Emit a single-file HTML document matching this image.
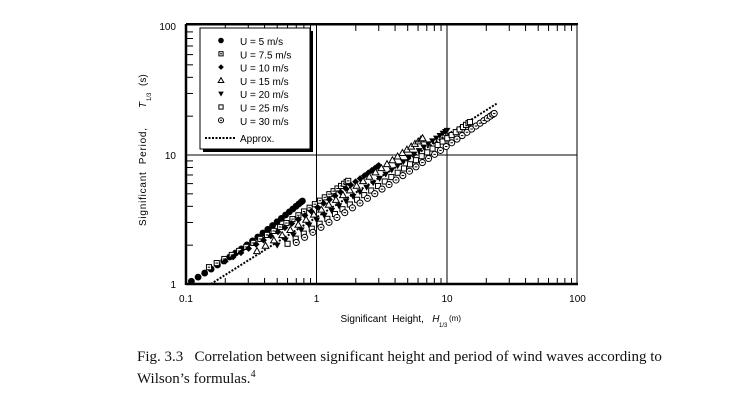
<!DOCTYPE html>
<html><head><meta charset="utf-8"><style>
body{margin:0;background:#fff;width:730px;height:402px;overflow:hidden}
svg{position:absolute;left:0;top:0}
.cap{position:absolute;left:137px;font-family:"Liberation Serif",serif;font-size:15px;color:#111;white-space:nowrap}
</style></head><body>
<svg id="s" width="730" height="402" font-family="Liberation Sans, sans-serif" font-size="10">
</svg>
<div class="cap" style="top:349px">Fig. 3.3&nbsp;&nbsp; Correlation between significant height and period of wind waves according to</div>
<div class="cap" style="top:369px">Wilson’s formulas.<sup style="font-size:10px">4</sup></div>
<script>
const s=document.getElementById('s');let h='';
const X0=186,DX=130.5,Y0=284,DY=129;
const X=v=>X0+(Math.log10(v)+1)*DX, Y=v=>Y0-Math.log10(v)*DY;
h+=`<line x1="${X(1)}" y1="25" x2="${X(1)}" y2="284" stroke="#000" stroke-width="1"/>`;
h+=`<line x1="${X(10)}" y1="25" x2="${X(10)}" y2="284" stroke="#000" stroke-width="1"/>`;
h+=`<line x1="186" y1="${Y(10)}" x2="577" y2="${Y(10)}" stroke="#000" stroke-width="1"/>`;
h+=`<rect x="186" y="25" width="391" height="259" fill="none" stroke="#000" stroke-width="1"/>`;
h+=`<line x1="186" y1="284" x2="578" y2="284" stroke="#000" stroke-width="2.5"/>`;
h+=`<line x1="186" y1="24" x2="578" y2="24" stroke="#000" stroke-width="2"/>`;
h+=`<line x1="186" y1="24" x2="186" y2="285" stroke="#000" stroke-width="2.5"/>`;
for(let d=-1;d<2;d++)for(let k=2;k<10;k++){let x=X(k*Math.pow(10,d));
h+=`<line x1="${x}" y1="284" x2="${x}" y2="278" stroke="#000"/><line x1="${x}" y1="25" x2="${x}" y2="31" stroke="#000"/>`;}
for(let d=0;d<2;d++)for(let k=2;k<10;k++){let y=Y(k*Math.pow(10,d));
h+=`<line x1="186" y1="${y}" x2="193" y2="${y}" stroke="#000"/>`;}
[[0.1,'0.1'],[1,'1'],[10,'10'],[100,'100']].forEach(([v,t])=>h+=`<text x="${X(v)}" y="302" text-anchor="middle">${t}</text>`);
[[100,'100'],[10,'10'],[1,'1']].forEach(([v,t])=>h+=`<text x="176" y="${Y(v)+4}" text-anchor="end">${t}</text>`);
h+=`<text x="390" y="322" text-anchor="middle">Significant&#160; Height,&#160;&#160; <tspan font-style="italic">H</tspan></text><text x="439" y="327" font-size="6">1/3</text><text x="449" y="321" font-size="8">(m)</text>`;
h+=`<g transform="translate(146,0) rotate(-90)"><text x="-226" y="0" textLength="98" lengthAdjust="spacing">Significant&#160; Period,</text><text x="-108" y="0" font-style="italic">T</text><text x="-101" y="5" font-size="6">1/3</text><text x="-86" y="0">(s)</text></g>`;
h+=`<line x1="${X(0.155)}" y1="${Y(1)}" x2="${X(24)}" y2="${Y(25)}" stroke="#000" stroke-width="2" stroke-dasharray="2,1.5"/>`;
function mk(t,x,y,r){r=r||3.4;const a=r*0.75;switch(t){
case 0:return `<circle cx="${x}" cy="${y}" r="${r}" fill="#000"/>`;
case 1:return `<rect x="${x-a}" y="${y-a}" width="${2*a}" height="${2*a}" fill="#fff" stroke="#000"/><line x1="${x-a/2}" y1="${y}" x2="${x+a/2}" y2="${y}" stroke="#000"/>`;
case 2:return `<polygon points="${x},${y-r} ${x+r},${y} ${x},${y+r} ${x-r},${y}" fill="#000"/>`;
case 3:return `<polygon points="${x},${y-r} ${x+r},${y+a} ${x-r},${y+a}" fill="#fff" stroke="#000"/>`;
case 4:return `<polygon points="${x-r},${y-a} ${x+r},${y-a} ${x},${y+r}" fill="#000"/>`;
case 5:return `<rect x="${x-a}" y="${y-a}" width="${2*a}" height="${2*a}" fill="#fff" stroke="#000"/>`;
case 6:return `<circle cx="${x}" cy="${y}" r="${r*0.9}" fill="#fff" stroke="#000"/><line x1="${x-a/2}" y1="${y}" x2="${x+a/2}" y2="${y}" stroke="#000"/>`;}}
const ser=[[0,0.11,1.05,0.78,4.4,24,0.03],[1,0.15,1.35,1.75,6.3,26,0.03],[2,0.2,1.5,3,8.3,28,0.03],[3,0.35,1.8,6.5,13.5,28,0.02],[4,0.5,2.0,10,15.5,30,0.02],[5,0.6,2.05,15,18,32,0.02],[6,0.7,2.1,23,21,34,0.02]];
ser.forEach(([t,h1,t1,h2,t2,n,c])=>{for(let i=0;i<n;i++){let f=1-Math.pow(1-i/(n-1),1.4);
let lh=Math.log10(h1)+f*(Math.log10(h2)-Math.log10(h1));let lt=Math.log10(t1)+f*(Math.log10(t2)-Math.log10(t1))-c*Math.sin(Math.PI*f);
h+=mk(t,X(Math.pow(10,lh)),Y(Math.pow(10,lt)));}});
h+=`<rect x="203" y="31" width="110" height="121" fill="#000"/><rect x="200" y="28" width="110" height="121" fill="#fff" stroke="#000"/>`;
const lab=['U = 5 m/s','U = 7.5 m/s','U = 10 m/s','U = 15 m/s','U = 20 m/s','U = 25 m/s','U = 30 m/s'];
lab.forEach((l,i)=>{let y=41+i*13.3;h+=mk(i,221,y-0.5,2.8);h+=`<text x="240" y="${y+4}">${l}</text>`;});
h+=`<line x1="205" y1="138" x2="236" y2="138" stroke="#000" stroke-width="2" stroke-dasharray="2,1.5"/><text x="240" y="142">Approx.</text>`;
s.innerHTML=h;
</script>
</body></html>
